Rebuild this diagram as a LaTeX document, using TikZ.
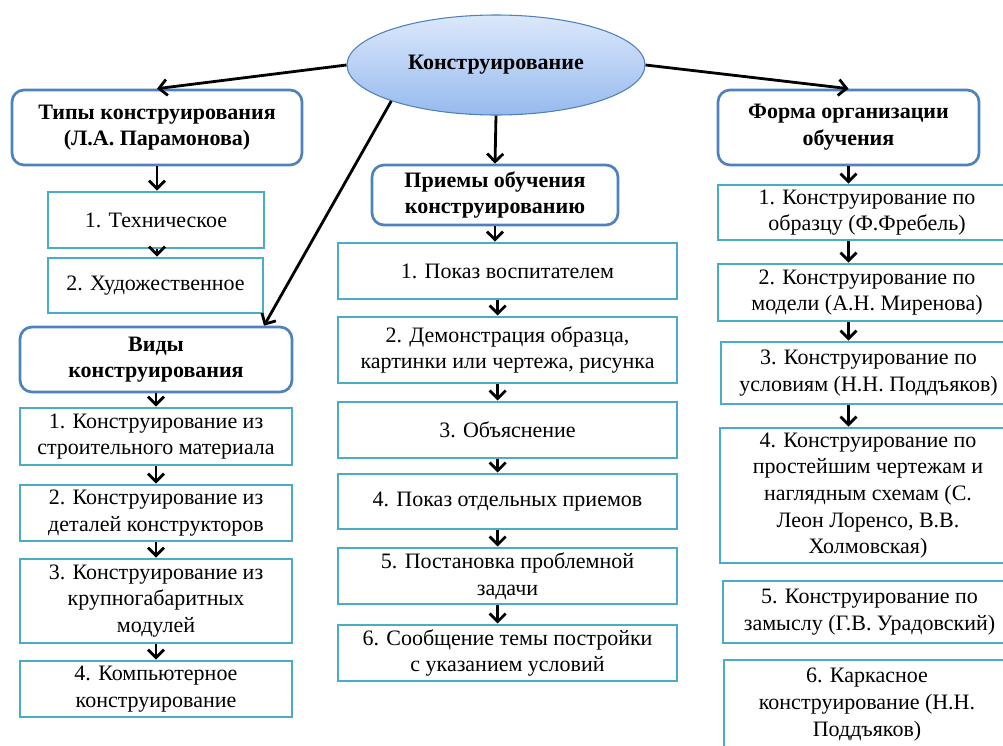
\documentclass[tikz,border=0pt]{standalone}
\usepackage{fontspec}
\setmainfont{Liberation Serif}
\newfontfamily\tnr{Liberation Serif}
\usetikzlibrary{arrows.meta,shapes.geometric}
\definecolor{teal1}{HTML}{4BACC6}
\definecolor{blue1}{HTML}{4F81BD}
\definecolor{elltop}{HTML}{DCE8FB}
\definecolor{ellbot}{HTML}{96BAEE}
\begin{document}
\begin{tikzpicture}[x=0.75pt,y=-0.75pt,
  sz/.style 2 args={minimum width=#1*0.75pt, minimum height=#2*0.75pt},
  txt/.style={font=\tnr\fontsize{16.5}{20}\selectfont, align=center, inner sep=0pt},
  itembox/.style={txt, draw=teal1, line width=2.2pt, fill=white},
  headbox/.style={txt, font=\tnr\fontsize{16.5}{20}\selectfont\bfseries, draw=blue1, line width=2pt, rounded corners=9pt, fill=white},
  arr/.style={draw=black, line width=2.1pt, -{Straight Barb[length=6pt,width=12pt,line width=2.1pt]}}
]
\useasboundingbox (0,0) rectangle (1003,746);
\clip (0,0) rectangle (1003,746);

% central ellipse
\node[ellipse, sz={298}{100}, draw=blue1, line width=0.8pt, top color=elltop, bottom color=ellbot,
      font=\tnr\fontsize{16.5}{20}\selectfont\bfseries, inner sep=0pt] (ell) at (496,65) {Конструирование};

% left column
\node[headbox, sz={290}{75}] (tipi) at (157,127.5) {Типы конструирования\\(Л.А. Парамонова)};
\node[itembox, sz={216}{56}] (tech) at (156,220) {1. Техническое};
\node[itembox, sz={215}{55}] (hud) at (155.5,285.5) {2. Художественное};
\node[headbox, sz={272}{65}] (vidy) at (156,359.5) {Виды\\конструирования};
\node[itembox, sz={272}{57}] (l1) at (156,436.5) {1. Конструирование из\\строительного материала};
\node[itembox, sz={272}{56}] (l2) at (156,513) {2. Конструирование из\\деталей конструкторов};
\node[itembox, sz={272}{84}] (l3) at (156,601) {3. Конструирование из\\крупногабаритных\\модулей};
\node[itembox, sz={272}{56}] (l4) at (156,689) {4. Компьютерное\\конструирование};

% middle column
\node[headbox, sz={246}{60}] (priemy) at (495,195) {Приемы обучения\\конструированию};
\node[itembox, sz={339}{56}] (m1) at (507.5,271) {1. Показ воспитателем};
\node[itembox, sz={339}{66}] (m2) at (507.5,350) {2. Демонстрация образца,\\картинки или чертежа, рисунка};
\node[itembox, sz={339}{56}] (m3) at (507.5,430) {3. Объяснение};
\node[itembox, sz={339}{55}] (m4) at (507.5,501.5) {4. Показ отдельных приемов};
\node[itembox, sz={339}{56}] (m5) at (507.5,576) {5. Постановка проблемной\\задачи};
\node[itembox, sz={339}{56}] (m6) at (507.5,653) {6. Сообщение темы постройки\\с указанием условий};

% right column
\node[headbox, sz={261}{75}] (forma) at (848.5,127.5) {Форма организации\\обучения};
\node[itembox, sz={298}{55}] (r1) at (867,212.5) {1. Конструирование по\\образцу (Ф.Фребель)};
\node[itembox, sz={298}{57}] (r2) at (867,292.5) {2. Конструирование по\\модели (А.Н. Миренова)};
\node[itembox, sz={295}{62}] (r3) at (868.5,373) {3. Конструирование по\\условиям (Н.Н. Поддъяков)};
\node[itembox, sz={296}{135}] (r4) at (868,495.5) {4. Конструирование по\\простейшим чертежам и\\наглядным схемам (С.\\Леон Лоренсо, В.В.\\Холмовская)};
\node[itembox, sz={293}{62}] (r5) at (869.5,612) {5. Конструирование по\\замыслу (Г.В. Урадовский)};
\node[itembox, sz={292}{120}] (r6) at (870,720) {};
\node[txt, anchor=north] (r6t) at (867,668) {6. Каркасное\\конструирование (Н.Н.\\Поддъяков)};

% connectors from ellipse
\draw[arr] (ell.west) -- (tipi.north);
\draw[arr] (ell.east) -- (forma.north);
\draw[arr] (ell.south) -- (priemy.north);
\draw[arr] (ell.199) -- ([xshift=-22pt]vidy.north east);

% left chain
\draw[arr] (tipi.south) -- (tech.north -| tipi.south);
\draw[arr] (tech.south -| tipi.south) -- (hud.north -| tipi.south);
\draw[arr] (vidy.south) -- (l1.north -| vidy.south);
\draw[arr] (l1.south -| vidy.south) -- (l2.north -| vidy.south);
\draw[arr] (l2.south -| vidy.south) -- (l3.north -| vidy.south);
\draw[arr] (l3.south -| vidy.south) -- (l4.north -| vidy.south);

% middle chain
\draw[arr] (priemy.south) -- (m1.north -| priemy.south);
\draw[arr] ([xshift=2pt]m1.south -| priemy.south) -- ([xshift=2pt]m2.north -| priemy.south);
\draw[arr] ([xshift=2pt]m2.south -| priemy.south) -- ([xshift=2pt]m3.north -| priemy.south);
\draw[arr] ([xshift=2pt]m3.south -| priemy.south) -- ([xshift=2pt]m4.north -| priemy.south);
\draw[arr] ([xshift=2pt]m4.south -| priemy.south) -- ([xshift=2pt]m5.north -| priemy.south);
\draw[arr] ([xshift=2pt]m5.south -| priemy.south) -- ([xshift=2pt]m6.north -| priemy.south);

% right chain
\draw[arr] (forma.south) -- (r1.north -| forma.south);
\draw[arr] (r1.south -| forma.south) -- (r2.north -| forma.south);
\draw[arr] (r2.south -| forma.south) -- (r3.north -| forma.south);
\draw[arr] (r3.south -| forma.south) -- (r4.north -| forma.south);
\end{tikzpicture}
\end{document}
